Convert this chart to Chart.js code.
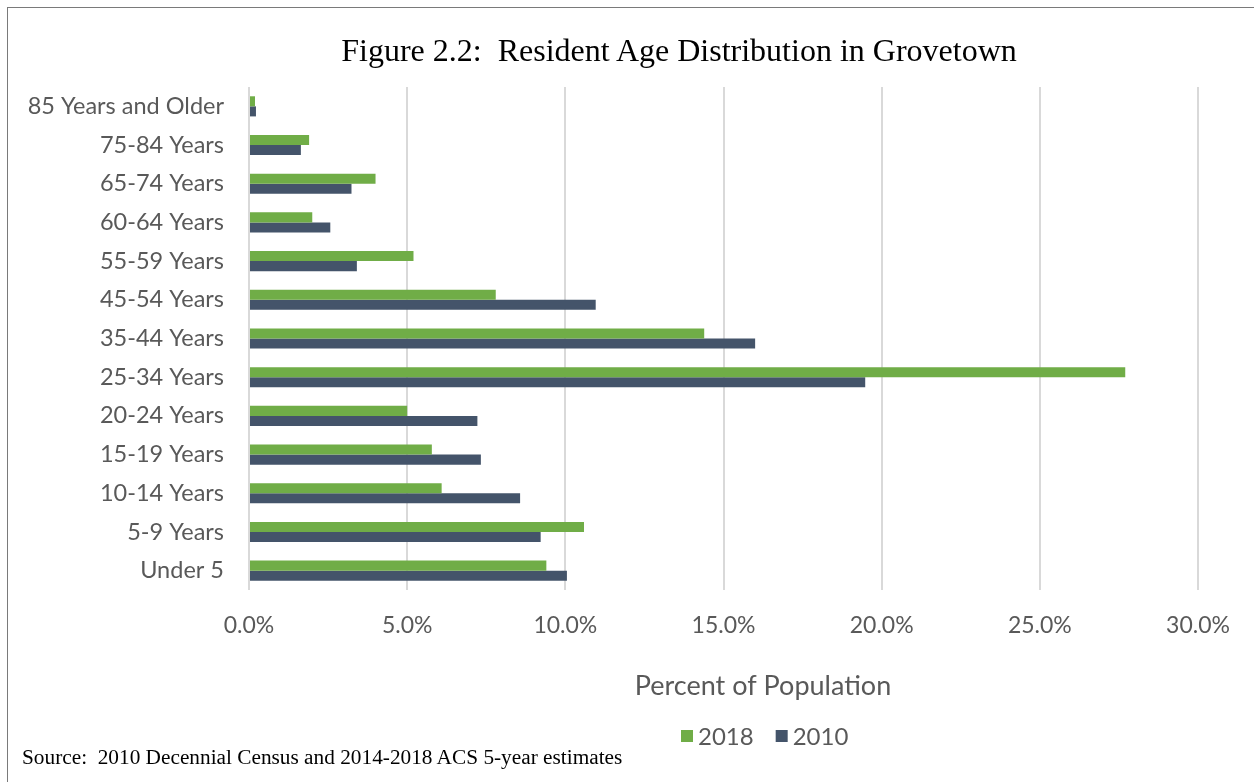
<!DOCTYPE html>
<html>
<head>
<meta charset="utf-8">
<title>Resident Age Distribution in Grovetown</title>
<script src="https://cdn.jsdelivr.net/npm/chart.js@4/dist/chart.umd.min.js"></script>
<style>
    body { margin: 0; background: #fff; }
    #wrap { position: relative; width: 1254px; height: 782px; overflow: hidden; }
    #frame { position: absolute; left: 7px; top: 7px; width: 1300px; height: 900px;
             border-left: 1px solid #7a7a7a; border-top: 1px solid #7a7a7a; }
    #title { position: absolute; left: 0; top: 32px; width: 1358px; text-align: center;
             font-family: "Liberation Serif", "Times New Roman", serif; font-size: 32px;
             color: #000; white-space: pre; }
    #source { position: absolute; left: 22px; top: 745px;
              font-family: "Liberation Serif", "Times New Roman", serif; font-size: 21.3px;
              color: #000; white-space: pre; }
    canvas { position: absolute; left: 0; top: 0; }
</style>
</head>
<body>
<div id="wrap">
    <div id="frame"></div>
    <canvas id="myChart" width="1254" height="782"></canvas>
    <div id="title">Figure 2.2:  Resident Age Distribution in Grovetown</div>
    <div id="source">Source:  2010 Decennial Census and 2014-2018 ACS 5-year estimates</div>
</div>
<script>
// age groups, oldest at the top
const ageGroups = [
    '85 Years and Older', '75-84 Years', '65-74 Years', '60-64 Years',
    '55-59 Years', '45-54 Years', '35-44 Years', '25-34 Years',
    '20-24 Years', '15-19 Years', '10-14 Years', '5-9 Years', 'Under 5'
];

// percent of population
const pct2018 = [0.19, 1.9, 4.0, 2.0, 5.2, 7.8, 14.39, 27.7, 5.0, 5.78, 6.09, 10.59, 9.4];
const pct2010 = [0.22, 1.64, 3.24, 2.57, 3.41, 10.96, 16.0, 19.48, 7.22, 7.33, 8.57, 9.22, 10.05];

const axisTicks = [0, 5, 10, 15, 20, 25, 30];

const textGray = '#595959';
const fontFamily = 'Lato, "Open Sans", sans-serif';

// axis title and legend sit under the plot, drawn by hand
const footerPlugin = {
    id: 'footer',
    afterDraw(chart) {
        let ctx = chart.ctx;
        ctx.save();
        ctx.fillStyle = textGray;
        ctx.font = '27px ' + fontFamily;
        ctx.textAlign = 'center';
        ctx.textBaseline = 'middle';
        ctx.fillText('Percent of Population', 763, 686);

        ctx.font = '24px ' + fontFamily;
        ctx.textAlign = 'left';
        let x = 681;
        chart.data.datasets.forEach(ds => {
            ctx.fillStyle = ds.backgroundColor;
            ctx.fillRect(x, 730, 12, 12);
            ctx.fillStyle = textGray;
            ctx.fillText(ds.label, x + 17, 737);
            x += 17 + ctx.measureText(ds.label).width + 22;
        });
        ctx.restore();
    }
};

let ctx = document.getElementById('myChart').getContext('2d');
let myChart = new Chart(ctx, {
    type: 'bar',
    data: {
        labels: ageGroups,
        datasets: [
            { label: '2018', data: pct2018, backgroundColor: '#70AD47', borderWidth: 0 },
            { label: '2010', data: pct2010, backgroundColor: '#44546A', borderWidth: 0 }
        ]
    },
    options: {
        indexAxis: 'y',
        responsive: false,
        animation: false,
        layout: { padding: { top: 87, right: 56, bottom: 132, left: 0 } },
        datasets: { bar: { barPercentage: 1.0, categoryPercentage: 0.52 } },
        plugins: {
            legend: { display: false },
            title: { display: false },
            tooltip: { enabled: false }
        },
        scales: {
            x: {
                min: 0,
                max: 30,
                afterFit(scale) { scale.height = 60; },
                afterBuildTicks(scale) { scale.ticks = axisTicks.map(v => ({ value: v })); },
                grid: { color: '#d9d9d9', lineWidth: 2, drawTicks: false },
                border: { display: false },
                ticks: {
                    padding: 22,
                    color: textGray,
                    font: { family: fontFamily, size: 23 },
                    callback: value => value.toFixed(1) + '%'
                }
            },
            y: {
                afterFit(scale) { scale.width = 249; },
                grid: { display: false, drawTicks: false },
                border: { display: false },
                ticks: {
                    padding: 25,
                    color: textGray,
                    font: { family: fontFamily, size: 23.5 }
                }
            }
        }
    },
    plugins: [footerPlugin]
});
</script>
</body>
</html>
